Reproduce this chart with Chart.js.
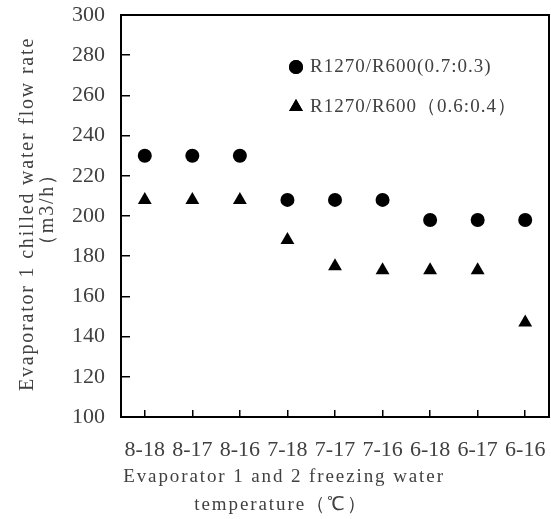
<!DOCTYPE html>
<html lang="en">
<head>
  <meta charset="UTF-8">
  <title>Evaporator 1 chilled water flow rate</title>
  <script src="https://cdn.jsdelivr.net/npm/chart.js"></script>
  <style>
    body {
      margin: 0;
      background: #fff;
    }

    .wrap {
      width: 551px;
      height: 519px;
      position: relative;
    }
  </style>
</head>
<body>

<div class="wrap">
  <canvas id="flowChart"></canvas>
</div>

<script>
  // data
  const categories = ['8-18', '8-17', '8-16', '7-18', '7-17', '7-16', '6-18', '6-17', '6-16'];
  const mix73 = [230, 230, 230, 208, 208, 208, 198, 198, 198];
  const mix64 = [208, 208, 208, 188, 175, 173, 173, 173, 147];
  const seriesNames = ['R1270/R600(0.7:0.3)', 'R1270/R600（0.6:0.4）'];
  const yTitle = ['Evaporator 1 chilled water flow rate', '（m3/h）'];
  const xTitle = ['Evaporator 1 and 2 freezing water', 'temperature（℃）'];

  const serif = "'Liberation Serif', 'Times New Roman', serif";
  const textGray = '#404040';

  // box, titles and legend drawn on top of the chart area
  const extras = {
    id: 'extras',
    afterDraw(chart) {
      const ctx = chart.ctx;
      const a = chart.chartArea;
      ctx.save();

      // frame
      ctx.strokeStyle = '#000';
      ctx.lineWidth = 2;
      ctx.strokeRect(a.left, a.top, a.right - a.left, a.bottom - a.top);

      ctx.fillStyle = textGray;
      ctx.textBaseline = 'middle';

      // y title
      const midY = (a.top + a.bottom) / 2;
      ctx.font = '20px ' + serif;
      ctx.letterSpacing = '1.8px';
      ctx.save();
      ctx.translate(28, midY - 2);
      ctx.rotate(-Math.PI / 2);
      ctx.textAlign = 'center';
      ctx.fillText(yTitle[0], 0, 0);
      ctx.restore();
      ctx.save();
      ctx.translate(48, midY - 7);
      ctx.rotate(-Math.PI / 2);
      ctx.textAlign = 'center';
      ctx.fillText(yTitle[1], 0, 0);
      ctx.restore();

      // x title
      ctx.font = '19px ' + serif;
      ctx.letterSpacing = '1.9px';
      ctx.textAlign = 'center';
      ctx.fillText(xTitle[0], 284, 477);
      ctx.fillText(xTitle[1], 281, 505);

      // legend
      ctx.letterSpacing = '1px';
      chart.data.datasets.forEach((ds, i) => {
        const y = 67 + i * 40;
        ctx.fillStyle = '#000';
        Chart.helpers.drawPoint(ctx, {
          pointStyle: ds.pointStyle,
          radius: ds.pointRadius,
          rotation: 0,
          borderWidth: 0
        }, 296, y);
        ctx.fill();
        ctx.fillStyle = textGray;
        ctx.textAlign = 'left';
        ctx.fillText(ds.label, 310, y);
      });

      ctx.restore();
    }
  };

  new Chart(document.getElementById('flowChart'), {
    type: 'line',
    data: {
      labels: categories,
      datasets: [
        {
          label: seriesNames[0],
          data: mix73,
          showLine: false,
          pointStyle: 'circle',
          pointRadius: 7,
          pointBackgroundColor: '#000',
          pointBorderColor: '#000',
          pointBorderWidth: 0
        },
        {
          label: seriesNames[1],
          data: mix64,
          showLine: false,
          pointStyle: 'triangle',
          pointRadius: 8,
          pointBackgroundColor: '#000',
          pointBorderColor: '#000',
          pointBorderWidth: 0
        }
      ]
    },
    options: {
      responsive: true,
      maintainAspectRatio: false,
      animation: false,
      layout: {
        autoPadding: false,
        padding: { top: 15, right: 2, left: 0, bottom: 0 }
      },
      plugins: {
        legend: { display: false },
        tooltip: { enabled: false }
      },
      scales: {
        x: {
          offset: true,
          grid: {
            offset: false,
            drawOnChartArea: false,
            drawTicks: true,
            tickLength: -7,
            color: '#000',
            lineWidth: 1.5
          },
          border: { color: '#000', width: 2 },
          ticks: {
            padding: 0,
            maxRotation: 0,
            autoSkip: false,
            color: textGray,
            // tall line box pushes the labels down below the inside ticks
            font: { family: serif, size: 22, lineHeight: '80px' }
          },
          afterFit(scale) {
            scale.height = 102;
            scale.paddingLeft = 0;
            scale.paddingRight = 0;
          }
        },
        y: {
          min: 100,
          max: 300,
          grid: {
            drawOnChartArea: false,
            drawTicks: true,
            tickLength: -9,
            color: '#000',
            lineWidth: 1.5
          },
          border: { color: '#000', width: 2 },
          ticks: {
            stepSize: 20,
            padding: 25,
            color: textGray,
            font: { family: serif, size: 22 }
          },
          afterFit(scale) {
            scale.width = 121;
            scale.paddingTop = 0;
            scale.paddingBottom = 0;
          }
        }
      }
    },
    plugins: [extras]
  });
</script>

</body>
</html>
